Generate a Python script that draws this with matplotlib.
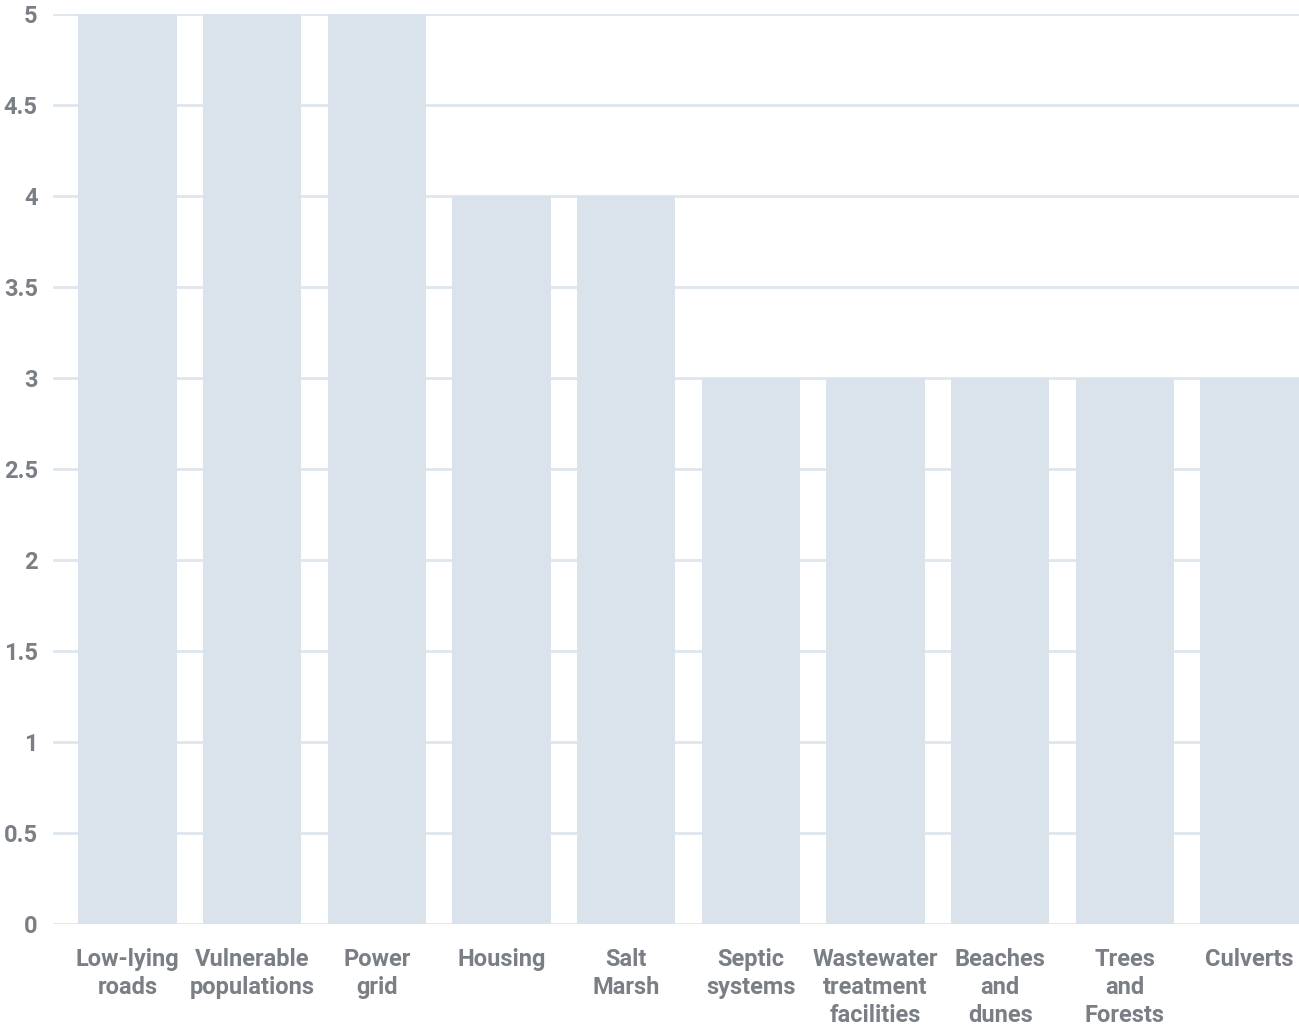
import numpy as np
import matplotlib.pyplot as plt

categories = ["Low-lying\nroads", "Vulnerable\npopulations", "Power\ngrid", "Housing",
              "Salt\nMarsh", "Septic\nsystems", "Wastewater\ntreatment\nfacilities",
              "Beaches\nand\ndunes", "Trees\nand\nForests", "Culverts"]
values = [5, 5, 5, 4, 4, 3, 3, 3, 3, 3]
yticks = [0, 0.5, 1, 1.5, 2, 2.5, 3, 3.5, 4, 4.5, 5]
ytick_labels = ["0", "0.5", "1", "1.5", "2", "2.5", "3", "3.5", "4", "4.5", "5"]

plt.rcParams['font.family'] = ['Roboto', 'DejaVu Sans']

fig = plt.figure(figsize=(12.99, 10.28), dpi=100)
ax = fig.add_axes([53 / 1299, 104 / 1028, 1 - 53 / 1299, 910 / 1028])

x = np.arange(len(categories))
ax.bar(x, values, width=0.79, color="#dae3ec", zorder=2)

ax.set_ylim(0, 5)
ax.set_xlim(-0.598, 9.397)
ax.set_yticks(yticks)
ax.set_yticklabels(ytick_labels)
ax.set_xticks(x)
ax.set_xticklabels(categories, linespacing=1.3)

ax.set_axisbelow(True)
ax.grid(axis="y", color="#dfe6ee", linewidth=2)
for s in ax.spines.values():
    s.set_visible(False)

ax.tick_params(axis="both", length=0, labelcolor="#7a7f85", labelsize=17)
ax.tick_params(axis="y", pad=11)
ax.tick_params(axis="x", pad=17)
for lbl in ax.get_xticklabels() + ax.get_yticklabels():
    lbl.set_fontweight("bold")

fig.savefig("out.png", dpi=100)
